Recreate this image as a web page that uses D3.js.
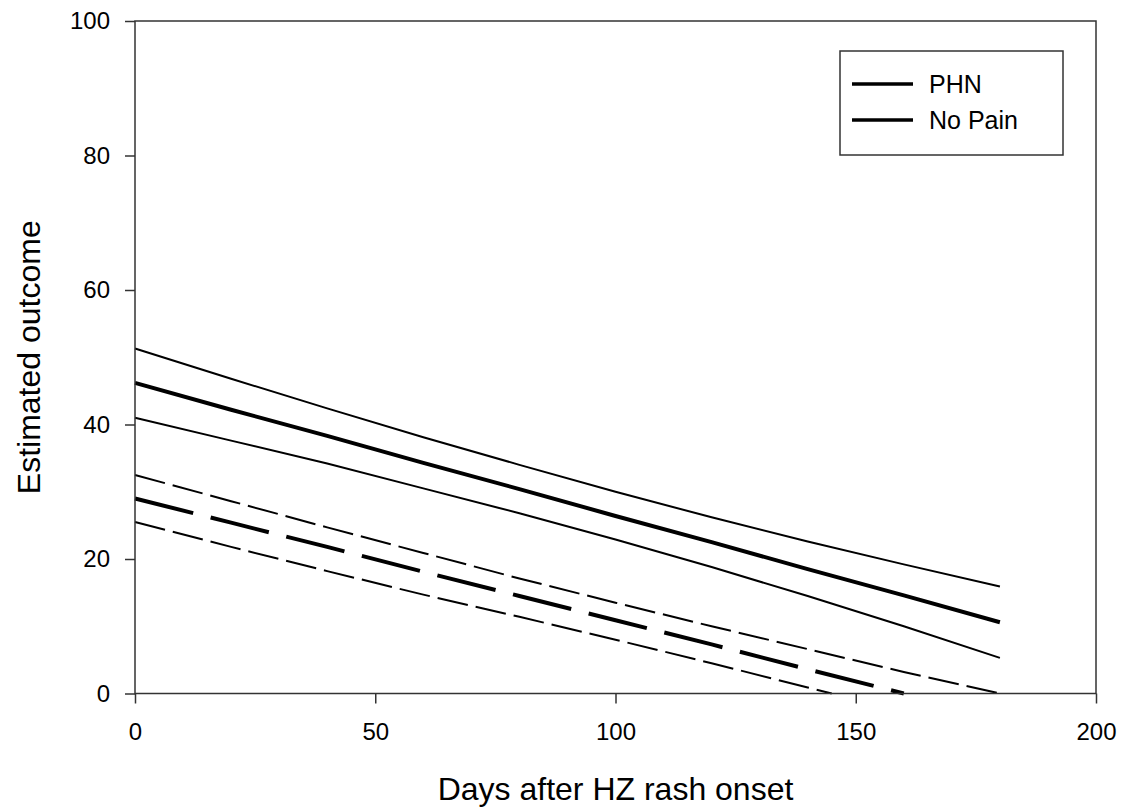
<!DOCTYPE html>
<html>
<head>
<meta charset="utf-8">
<script src="https://cdn.jsdelivr.net/npm/d3@7"></script>
<style>
  body { margin: 0; background: #fff; }
  text { font-family: "Liberation Sans", Arial, sans-serif; fill: #000; }
</style>
</head>
<body>
<svg id="chart" width="1131" height="808"></svg>
<script>
// Days after rash onset at which the curves were read
const days = [0, 20, 40, 60, 80, 100, 120, 140, 160, 180];

// PHN group: estimate and 95% band
const phnMean  = [46.2, 42.2, 38.3, 34.3, 30.4, 26.4, 22.5, 18.5, 14.6, 10.6];
const phnUpper = [51.3, 46.8, 42.4, 38.1, 34.0, 30.0, 26.2, 22.6, 19.2, 15.9];
const phnLower = [41.0, 37.6, 34.2, 30.5, 26.8, 22.9, 18.8, 14.5, 10.0, 5.3];

// No pain group (curves stop where they reach 0)
const noPainMeanDays  = [0, 20, 40, 60, 80, 100, 120, 140, 160];
const noPainMean      = [29.0, 25.4, 21.8, 18.1, 14.5, 10.9, 7.3, 3.6, 0.0];
const noPainUpperDays = [0, 20, 40, 60, 80, 100, 120, 140, 160, 180];
const noPainUpper     = [32.5, 28.6, 24.7, 20.9, 17.1, 13.5, 10.0, 6.6, 3.2, 0.0];
const noPainLowerDays = [0, 20, 40, 60, 80, 100, 120, 140, 145];
const noPainLower     = [25.5, 21.8, 18.2, 14.7, 11.4, 8.0, 4.5, 0.9, 0.0];

const xTicks = [0, 50, 100, 150, 200];
const yTicks = [0, 20, 40, 60, 80, 100];
const legendLabels = ["PHN", "No Pain"];

const width = 1131;
const height = 808;
const margin = { top: 21, right: 35, bottom: 114.5, left: 135 };
const chartWidth = width - margin.left - margin.right;
const chartHeight = height - margin.top - margin.bottom;

const svg = d3.select('#chart')
    .append('g')
    .attr('transform', `translate(${margin.left}, ${margin.top})`);

const xScale = d3.scaleLinear().domain([0, 200]).range([0, chartWidth]);
const yScale = d3.scaleLinear().domain([0, 100]).range([chartHeight, 0]);

const line = d3.line()
    .x(d => xScale(d[0]))
    .y(d => yScale(d[1]));

const zip = (xs, ys) => xs.map((x, i) => [x, ys[i]]);

// curves
const curves = [
    { pts: zip(days, phnUpper), w: 2, dash: null },
    { pts: zip(days, phnLower), w: 2, dash: null },
    { pts: zip(days, phnMean), w: 4, dash: null },
    { pts: zip(noPainUpperDays, noPainUpper), w: 2, dash: '31,8' },
    { pts: zip(noPainLowerDays, noPainLower), w: 2, dash: '31,8' },
    { pts: zip(noPainMeanDays, noPainMean), w: 4, dash: '60,18' }
];

svg.selectAll('path.curve')
    .data(curves)
    .enter()
    .append('path')
    .attr('class', 'curve')
    .attr('d', d => line(d.pts))
    .attr('fill', 'none')
    .attr('stroke', '#000')
    .attr('stroke-width', d => d.w)
    .attr('stroke-dasharray', d => d.dash);

// frame
svg.append('rect')
    .attr('x', 0)
    .attr('y', 0)
    .attr('width', chartWidth)
    .attr('height', chartHeight)
    .attr('fill', 'none')
    .attr('stroke', '#333')
    .attr('stroke-width', 1.5);

// x axis
const xAxis = svg.append('g')
    .attr('transform', `translate(0, ${chartHeight})`)
    .call(d3.axisBottom(xScale).tickValues(xTicks).tickSize(10).tickSizeOuter(0).tickPadding(19));
xAxis.select('.domain').remove();
xAxis.selectAll('line').attr('stroke', '#333').attr('stroke-width', 1.5);
xAxis.selectAll('text').style('font-size', '24px').style('font-family', '"Liberation Sans", Arial, sans-serif');

// y axis
const yAxis = svg.append('g')
    .call(d3.axisLeft(yScale).tickValues(yTicks).tickSize(10).tickSizeOuter(0).tickPadding(15));
yAxis.select('.domain').remove();
yAxis.selectAll('line').attr('stroke', '#333').attr('stroke-width', 1.5);
yAxis.selectAll('text').style('font-size', '24px').style('font-family', '"Liberation Sans", Arial, sans-serif');

// axis labels
svg.append('text')
    .attr('x', chartWidth / 2)
    .attr('y', 800 - margin.top)
    .style('text-anchor', 'middle')
    .style('font-size', '32px')
    .text('Days after HZ rash onset');

svg.append('text')
    .attr('transform', 'rotate(-90)')
    .attr('x', -chartHeight / 2)
    .attr('y', 40 - margin.left)
    .style('text-anchor', 'middle')
    .style('font-size', '32px')
    .text('Estimated outcome');

// legend
const legend = svg.append('g')
    .attr('transform', `translate(${840 - margin.left}, ${51 - margin.top})`);

legend.append('rect')
    .attr('width', 223)
    .attr('height', 104)
    .attr('fill', '#fff')
    .attr('stroke', '#333')
    .attr('stroke-width', 1.5);

legendLabels.forEach((label, i) => {
    legend.append('line')
        .attr('x1', 12)
        .attr('x2', 73)
        .attr('y1', 33 + i * 36)
        .attr('y2', 33 + i * 36)
        .attr('stroke', '#000')
        .attr('stroke-width', 3.5);
    legend.append('text')
        .attr('x', 89)
        .attr('y', 42 + i * 36)
        .style('font-size', '25px')
        .text(label);
});
</script>
</body>
</html>
